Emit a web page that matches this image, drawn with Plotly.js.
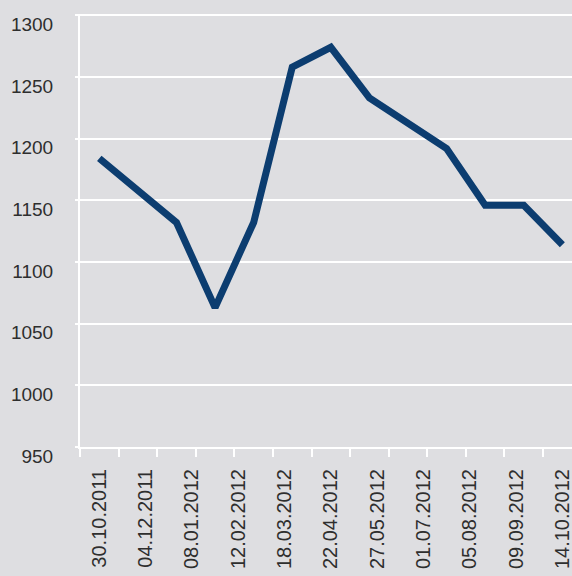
<!DOCTYPE html>
<html>
<head>
<meta charset="utf-8">
<script src="https://cdn.plot.ly/plotly-3.0.1.min.js"></script>
<style>
html,body{margin:0;padding:0;background:#dedee1;}
#chart{width:572px;height:576px;}
</style>
</head>
<body>
<div id="chart"></div>
<script>
// Data points (13 evenly spaced observations)
const pointIndex = [0,1,2,3,4,5,6,7,8,9,10,11,12];
const values = [1184,1158,1132,1063,1132,1258,1274,1233,1212,1192,1146,1146,1114];
// Date labels (11 labels spread evenly across the observations)
const dateLabels = ["30.10.2011","04.12.2011","08.01.2012","12.02.2012","18.03.2012","22.04.2012","27.05.2012","01.07.2012","05.08.2012","09.09.2012","14.10.2012"];
const labelPositions = dateLabels.map((d,i)=> i*12/(dateLabels.length-1));
const yTicks = [950,1000,1050,1100,1150,1200,1250,1300];

const bg = '#dedee1';
const trace = {
  x: pointIndex, y: values, type:'scatter', mode:'lines',
  line:{color:'#0c3d70', width:7, shape:'linear'},
  hoverinfo:'skip'
};
const layout = {
  width:572, height:576,
  paper_bgcolor:bg, plot_bgcolor:bg,
  margin:{l:80, r:0, t:14, b:129},
  showlegend:false,
  font:{family:'"Liberation Sans", Arial, sans-serif', color:'#2e2e2e'},
  xaxis:{
    range:[-0.5,12.25],
    tickmode:'array', tickvals:labelPositions, ticktext:dateLabels,
    tickangle:-90, ticks:'outside', ticklen:0, tickcolor:'rgba(0,0,0,0)',
    ticklabelstandoff:12, ticklabeloverflow:'allow',
    tickfont:{size:20, color:'#2e2e2e'},
    showgrid:false, zeroline:false,
    showline:true, linecolor:'#ffffff', linewidth:2,
    minor:{tick0:-0.5, dtick:1, ticks:'outside', ticklen:8, tickcolor:'#ffffff', tickwidth:2, showgrid:false}
  },
  yaxis:{
    range:[950,1301],
    tickmode:'array', tickvals:yTicks,
    ticks:'outside', ticklen:3, tickcolor:'#ffffff', tickwidth:2,
    ticklabelstandoff:18, ticklabelshift:9, ticklabeloverflow:'allow',
    tickfont:{size:19, color:'#2e2e2e'},
    showgrid:true, gridcolor:'#ffffff', gridwidth:2,
    zeroline:false, showline:true, linecolor:'#ffffff', linewidth:2
  }
};
Plotly.newPlot('chart',[trace],layout,{staticPlot:true, displayModeBar:false});
</script>
</body>
</html>
